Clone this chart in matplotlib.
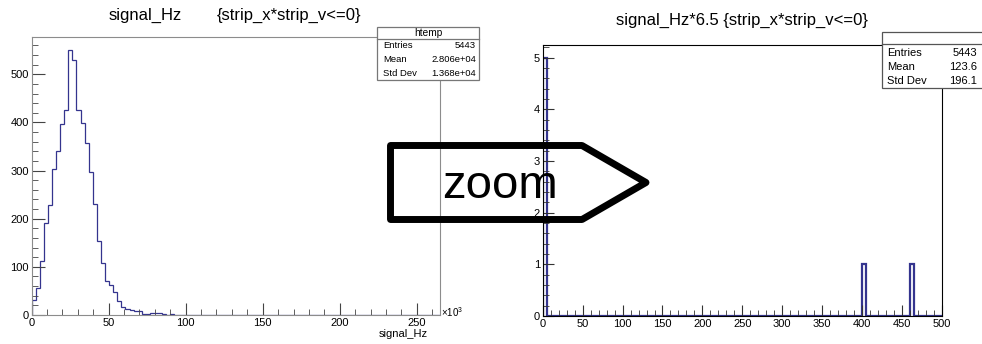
import numpy as np
import matplotlib
matplotlib.use("Agg")
import matplotlib.pyplot as plt
from matplotlib.patches import Polygon, Rectangle
from matplotlib.ticker import MultipleLocator

plt.rcParams['font.family'] = ['Liberation Sans', 'DejaVu Sans']
plt.rcParams['mathtext.default'] = 'regular'

# signal_Hz histogram, 100 bins over 0..265 (x10^3 Hz)
sig_lo, sig_hi = 0.0, 265.0
sig_counts = [
    32, 57, 113, 192, 229, 304, 341, 396, 425, 550,
    530, 425, 398, 358, 298, 231, 154, 109, 71, 63,
    48, 30, 17, 12, 10, 9, 9, 3, 2, 4,
    5, 4, 3, 0, 2, 1, 0, 1, 1, 1,
    1, 1, 0, 0, 0, 0, 0, 0, 0, 0,
    0, 0, 1, 0, 0, 0, 1, 0, 0, 0,
    0, 0, 0, 0, 0, 0, 0, 0, 0, 0,
    0, 0, 0, 0, 0, 0, 0, 0, 0, 0,
    0, 0, 0, 0, 0, 0, 0, 0, 0, 0,
    0, 0, 1, 0, 0, 0, 0, 0, 0, 0,
]

# signal_Hz*6.5 histogram, 100 bins over 0..500, only a few bins filled
zoom_lo, zoom_hi = 0.0, 500.0
zoom_nbins = 100
zoom_filled = {0: 5, 80: 1, 92: 1}

sig_stats = ["htemp", "5443", "2.806e+04", "1.368e+04"]
zoom_stats = ["", "5443", "123.6", "196.1"]
stat_names = ["Entries", "Mean", "Std Dev"]

W, H = 982, 344
line_col = '#34348e'


def fbox(l, t, r, b):
    return [l / W, 1 - b / H, (r - l) / W, (b - t) / H]


def fx(x):
    return x / W


def fy(y):
    return 1 - y / H


fig = plt.figure(figsize=(W / 100, H / 100), dpi=100)

# ---- left: full range
ax1 = fig.add_axes(fbox(31.5, 37, 440, 315))
sig_edges = np.linspace(sig_lo, sig_hi, len(sig_counts) + 1)
ax1.stairs(sig_counts, sig_edges, color=line_col, lw=0.9)
ax1.set_xlim(sig_lo, sig_hi)
ax1.set_ylim(0, max(sig_counts) * 1.05)
ax1.xaxis.set_major_locator(MultipleLocator(50))
ax1.xaxis.set_minor_locator(MultipleLocator(10))
ax1.yaxis.set_major_locator(MultipleLocator(100))
ax1.yaxis.set_minor_locator(MultipleLocator(20))
for s in ax1.spines.values():
    s.set_color('#8c8c8c')
ax1.tick_params(which='both', direction='in', labelsize=8, colors='#444444',
                labelcolor='black', top=False, right=False)
ax1.tick_params(which='major', length=9, pad=2)
ax1.tick_params(which='minor', length=4.5)

fig.text(fx(441), fy(312), r'×10$^{3}$', fontsize=7, ha='left', va='center')
fig.text(fx(428), fy(334), 'signal_Hz', fontsize=8, ha='right', va='center')

# ---- right: zoomed range
ax2 = fig.add_axes(fbox(542.7, 44.7, 942, 316))
zoom_counts = np.zeros(zoom_nbins)
for b, c in zoom_filled.items():
    zoom_counts[b] = c
zoom_edges = np.linspace(zoom_lo, zoom_hi, zoom_nbins + 1)
ax2.stairs(zoom_counts, zoom_edges, color=line_col, lw=1.6)
ax2.set_xlim(zoom_lo, zoom_hi)
ax2.set_ylim(0, zoom_counts.max() * 1.05)
ax2.xaxis.set_major_locator(MultipleLocator(50))
ax2.xaxis.set_minor_locator(MultipleLocator(10))
ax2.yaxis.set_major_locator(MultipleLocator(1))
ax2.yaxis.set_minor_locator(MultipleLocator(0.2))
ax2.tick_params(which='both', direction='in', labelsize=8, colors='#333333',
                labelcolor='black', top=False, right=False)
ax2.tick_params(which='major', length=8, pad=2)
ax2.tick_params(which='minor', length=4)

# titles
fig.text(fx(182), fy(15), 'signal_Hz', fontsize=12, ha='right', va='center')
fig.text(fx(217), fy(15), '{strip_x*strip_v<=0}', fontsize=12, ha='left', va='center')
fig.text(fx(742), fy(20), 'signal_Hz*6.5 {strip_x*strip_v<=0}', fontsize=12,
         ha='center', va='center')


# stats boxes
def stats_box(l, t, hdr, b, r, vals, fs, edge, txt_l, txt_r, rows_y):
    fig.add_artist(Rectangle((fx(l), fy(b)), fx(r) - fx(l), fy(t) - fy(b),
                             transform=fig.transFigure, facecolor='white',
                             edgecolor=edge, lw=0.9, zorder=5))
    fig.add_artist(plt.Line2D([fx(l), fx(r)], [fy(hdr), fy(hdr)],
                              transform=fig.transFigure, color=edge, lw=0.9, zorder=6))
    fig.text((fx(l) + fx(min(r, W))) / 2, (fy(t) + fy(hdr)) / 2, vals[0],
             fontsize=fs + 0.5, ha='center', va='center', zorder=7)
    for name, v, y in zip(stat_names, vals[1:], rows_y):
        fig.text(fx(txt_l), fy(y), name, fontsize=fs, ha='left', va='center', zorder=7)
        fig.text(fx(txt_r), fy(y), v, fontsize=fs, ha='right', va='center', zorder=7)


stats_box(377, 27, 39, 80, 479, sig_stats, 6.8, '#777777', 383, 476, [46, 60, 73])
stats_box(882, 32, 44, 88, 990, zoom_stats, 8, '#555555', 887, 977, [53, 67, 81])

# "zoom" arrow outline
arrow_pts = [(390.5, 145.5), (582, 145.5), (646, 182.5), (582, 219.5), (390.5, 219.5)]
fig.add_artist(Polygon([(fx(x), fy(y)) for x, y in arrow_pts], closed=True,
                       transform=fig.transFigure, fill=False, edgecolor='black',
                       lw=5, joinstyle='round', zorder=8))
fig.text(fx(500), fy(186), 'zoom', fontsize=34, ha='center', va='center', zorder=9)

fig.savefig('out.png', dpi=100)
